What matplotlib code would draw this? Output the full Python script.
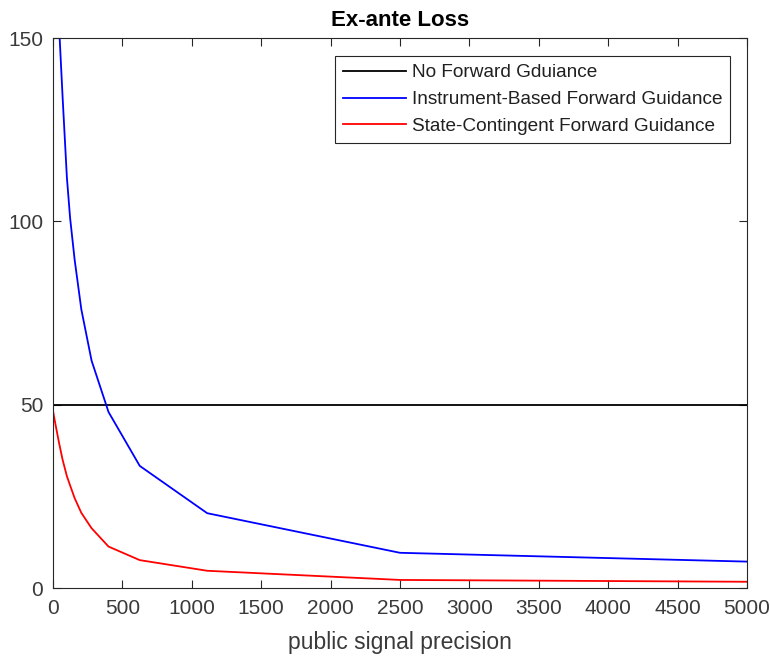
import matplotlib

matplotlib.use("Agg")
import matplotlib.pyplot as plt

plt.rcParams["font.family"] = ["Liberation Sans", "DejaVu Sans"]

# public signal precision grid (1/sigma^2) and losses
x_none = [0, 5000]
loss_none = [50, 50]

x_inst = [30, 48, 69, 100, 123, 156, 204, 278, 400, 625, 1111, 2500, 10000]
loss_inst = [165, 150, 134, 112, 101, 89.5, 76, 62, 48, 33.3, 20.4, 9.6, 2.4]

x_state = [0, 11, 25, 44, 69, 100, 123, 156, 204, 278, 400, 625, 1111, 2500, 10000]
loss_state = [48.3, 46, 43.2, 39.5, 35, 30.5, 28, 24.5, 20.5, 16.3, 11.3, 7.6, 4.7, 2.2, 0.7]

labels = ["No Forward Gduiance",
          "Instrument-Based Forward Guidance",
          "State-Contingent Forward Guidance"]

AX = "#262626"
TXT = "#3a3a3a"

fig = plt.figure(figsize=(7.7, 6.56), dpi=100)
ax = fig.add_axes([53 / 770, 1 - 588 / 656, 694 / 770, 550 / 656])

ax.plot(x_none, loss_none, c="k", lw=1.3, label=labels[0])
ax.plot(x_inst, loss_inst, c="#0000ff", lw=1.3, label=labels[1])
ax.plot(x_state, loss_state, c="#ff0000", lw=1.3, label=labels[2])

ax.set_xlim(0, 5000)
ax.set_ylim(0, 150)
ax.set_xticks(range(0, 5001, 500))
ax.set_yticks([0, 50, 100, 150])
ax.tick_params(direction="in", top=True, right=True, length=6, width=0.8,
               color=AX, labelcolor=TXT, labelsize=15)
ax.tick_params(axis="x", pad=8)
ax.tick_params(axis="y", pad=7)
for s in ax.spines.values():
    s.set_color(AX)
    s.set_linewidth(0.8)

ax.set_xlabel("public signal precision", fontsize=16.5, color=TXT, labelpad=9)
ax.set_title("Ex-ante Loss", fontsize=16, fontweight="bold", pad=9)

leg = ax.legend(loc="upper right", bbox_to_anchor=(0.9755, 0.967), fontsize=13.7,
                fancybox=False, framealpha=1, edgecolor=AX, handlelength=3.3,
                handletextpad=0.3, borderpad=0.42, labelspacing=0.5,
                borderaxespad=0)
leg.get_frame().set_linewidth(0.8)
for t in leg.get_texts():
    t.set_color("#202020")

fig.savefig("out.png", dpi=100)
